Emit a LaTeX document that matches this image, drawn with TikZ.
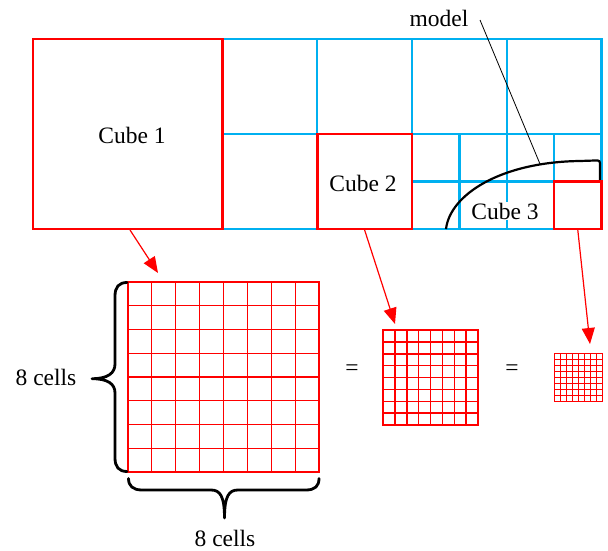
\documentclass[tikz,border=0pt]{standalone}
\usepackage{fontspec}
\setmainfont{Liberation Serif}
\usetikzlibrary{arrows.meta,calc}
\definecolor{gridblue}{RGB}{0,176,240}
\definecolor{cubered}{RGB}{255,0,0}
\begin{document}
\begin{tikzpicture}[x=1pt,y=-1pt,
  txt/.style={font=\fontsize{23.5}{28}\selectfont, inner sep=1pt},
  bluegrid/.style={draw=gridblue, line width=2.4pt},
  cubebox/.style={draw=cubered, line width=2.6pt, inner sep=0pt, outer sep=0pt},
  cellbox/.style={draw=cubered, line width=#1, inner sep=0pt, outer sep=0pt},
  arr/.style={draw=cubered, line width=1.2pt, -{Triangle[length=16pt,width=13pt]}},
  bracestyle/.style={draw=black, line width=2.8pt, line cap=round, line join=round},
  modelcurve/.style={draw=black, line width=2.2pt},
  leader/.style={draw=black, line width=0.8pt}]
\useasboundingbox (0,0) rectangle (608,551);

% blue octree grid
\draw[bluegrid] (222.5,39) -- (601.5,39) -- (601.5,229) -- (222.5,229);
\draw[bluegrid] (412,39) -- (412,229);
\draw[bluegrid] (317.25,39) -- (317.25,229);
\draw[bluegrid] (222.5,134) -- (601.5,134);
\draw[bluegrid] (506.75,39) -- (506.75,229);
\draw[bluegrid] (459.4,134) -- (459.4,229);
\draw[bluegrid] (554.1,134) -- (554.1,229);
\draw[bluegrid] (412,181.5) -- (601.5,181.5);

% model curve
\draw[modelcurve] (446,229) .. controls (450,195) and (500,162) .. (580,161)
  -- (595,160.5) .. controls (600,160.5) .. (600,166) -- (600,181.5);

% cubes
\node[cubebox, minimum width=189.5pt, minimum height=190pt] (cube1) at (127.75,134) {};
\node[cubebox, minimum width=94.75pt, minimum height=95pt] (cube2) at (364.6,181.5) {};
\node[cubebox, minimum width=47.4pt, minimum height=47.5pt] (cube3) at (577.8,205.25) {};

\node[txt] (l1) at (132,135) {Cube 1};
\node[txt] (l2) at (363,183) {Cube 2};
\node[txt, fill=white] (l3) at (505,211) {Cube 3};

% model label
\node[txt] (model) at (439,18) {model};
\coordinate (mpt) at (540,164);
\draw[leader] (480,20) -- (mpt);

% cell grids
\node[cellbox=1.1pt, minimum width=191pt, minimum height=190pt] (g1) at (223.5,377) {};
\node[cellbox=1.5pt, minimum width=95pt, minimum height=95pt] (g2) at (430.5,377.5) {};
\node[cellbox=1.1pt, minimum width=48pt, minimum height=48pt] (g3) at (578.5,377.5) {};
\foreach \g/\w in {g1/1.1pt, g2/1.5pt, g3/1.1pt} {
  \foreach \i in {1,...,7} {
    \draw[cubered, line width=\w] ($(\g.north west)!\i/8!(\g.north east)$) -- ($(\g.south west)!\i/8!(\g.south east)$);
    \draw[cubered, line width=\w] ($(\g.north west)!\i/8!(\g.south west)$) -- ($(\g.north east)!\i/8!(\g.south east)$);
  }
}

% arrows
\coordinate (a1s) at (130,230);
\coordinate (a1e) at (158,273);
\coordinate (a2s) at (364.6,230);
\coordinate (a2e) at (395,324);
\coordinate (a3s) at (577.8,230);
\coordinate (a3e) at (590,344);
\draw[arr] (a1s) -- (a1e);
\draw[arr] (a2s) -- (a2e);
\draw[arr] (a3s) -- (a3e);

% equals
\node[txt] (eq1) at (352,370) {=};
\node[txt] (eq2) at (512,370) {=};

% left brace
\draw[bracestyle] (127,282.5) .. controls (119,282.5) and (115,287) .. (115,296)
  -- (115,364) .. controls (115,373) and (108,378.7) .. (92,378.7)
  .. controls (108,378.7) and (115,384) .. (115,393)
  -- (115,458) .. controls (115,467) and (119,471.5) .. (127,471.5);
\node[txt] (lc) at (46,377) {8 cells};

% bottom brace
\draw[bracestyle] (128.5,478.5) .. controls (128.5,486) and (133,490) .. (142,490)
  -- (211,490) .. controls (220,490) and (224.5,496) .. (224.5,518)
  .. controls (224.5,496) and (229,490) .. (238,490)
  -- (306,490) .. controls (315,490) and (319,486) .. (319,478.5);
\node[txt] (bc) at (225,538) {8 cells};
\end{tikzpicture}
\end{document}
